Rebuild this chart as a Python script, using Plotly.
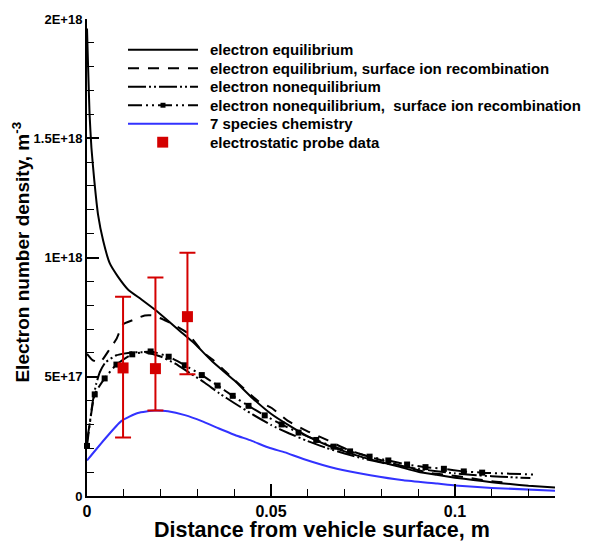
import plotly.graph_objects as go

# ---------------- data ----------------
eq_x = [0, 0.0003, 0.0007, 0.0012, 0.002, 0.003, 0.0044, 0.0062, 0.0084, 0.0112, 0.0148, 0.0184,
        0.0221, 0.0257, 0.0293, 0.034, 0.040, 0.045, 0.050, 0.055, 0.060, 0.065, 0.070, 0.075,
        0.080, 0.085, 0.090, 0.095, 0.100, 0.105, 0.110, 0.115, 0.120, 0.1272]
eq_y = [1.96e18, 1.80e18, 1.60e18, 1.46e18, 1.32e18, 1.18e18, 1.07e18, 9.75e17, 9.2e17, 8.65e17,
        8.24e17, 7.82e17, 7.34e17, 6.86e17, 6.38e17, 5.65e17, 4.85e17, 4.1e17, 3.45e17, 2.95e17,
        2.5e17, 2.15e17, 1.87e17, 1.62e17, 1.42e17, 1.22e17, 1.02e17, 8.9e16, 7.7e16, 6.7e16,
        5.8e16, 5.0e16, 4.3e16, 3.6e16]

eqr_x = [0, 0.0015, 0.0035, 0.0062, 0.008, 0.0098, 0.0125, 0.0157, 0.018, 0.021, 0.0234, 0.0271,
         0.0315, 0.0343, 0.0382, 0.0466, 0.0502, 0.0545, 0.0597, 0.0655, 0.071, 0.08, 0.0933,
         0.0988, 0.1038, 0.1092, 0.115]
eqr_y = [5.96e17, 5.7e17, 5.6e17, 6.17e17, 6.58e17, 7.2e17, 7.38e17, 7.57e17, 7.57e17, 7.38e17,
         7.2e17, 6.86e17, 6.03e17, 5.7e17, 5.14e17, 3.97e17, 3.69e17, 3.16e17, 2.73e17, 2.33e17,
         1.93e17, 1.5e17, 9.6e16, 8.7e16, 7.6e16, 6.3e16, 5.5e16]

neq_x = [0, 0.0007, 0.0015, 0.0025, 0.0035, 0.005, 0.008, 0.012, 0.016, 0.020, 0.024, 0.028,
         0.032, 0.036, 0.040, 0.045, 0.050, 0.055, 0.060, 0.065, 0.070, 0.075, 0.080, 0.085,
         0.090, 0.095, 0.100, 0.105, 0.110, 0.115, 0.1205]
neq_y = [2.3e17, 3.0e17, 3.9e17, 4.7e17, 5.2e17, 5.6e17, 5.9e17, 6.02e17, 6.02e17, 5.85e17,
         5.55e17, 5.15e17, 4.75e17, 4.3e17, 3.9e17, 3.42e17, 2.98e17, 2.62e17, 2.3e17, 2.02e17,
         1.78e17, 1.57e17, 1.4e17, 1.26e17, 1.14e17, 1.04e17, 9.5e16, 8.8e16, 8.3e16, 7.9e16, 7.5e16]

neqr_x = [0, 0.0021, 0.0048, 0.0080, 0.0123, 0.0173, 0.0222, 0.0266, 0.0312, 0.0355, 0.0396,
          0.0439, 0.0483, 0.0529, 0.0575, 0.0623, 0.0670, 0.0715, 0.0768, 0.0819, 0.0870,
          0.0920, 0.0970, 0.1024, 0.1074, 0.1214]
neqr_y = [2.1e17, 4.26e17, 4.93e17, 5.51e17, 5.94e17, 6.06e17, 5.84e17, 5.48e17, 5.07e17,
          4.63e17, 4.20e17, 3.78e17, 3.38e17, 3.00e17, 2.66e17, 2.35e17, 2.07e17, 1.87e17,
          1.65e17, 1.49e17, 1.32e17, 1.21e17, 1.14e17, 1.03e17, 9.8e16, 9.0e16]

sp7_x = [0, 0.0048, 0.0093, 0.0138, 0.0184, 0.022, 0.0266, 0.0312, 0.0357, 0.0402, 0.0448,
         0.0497, 0.0538, 0.0588, 0.0679, 0.077, 0.086, 0.0952, 0.1, 0.11, 0.1272]
sp7_y = [1.49e17, 2.38e17, 3.14e17, 3.48e17, 3.58e17, 3.55e17, 3.39e17, 3.14e17, 2.84e17,
         2.56e17, 2.31e17, 2.01e17, 1.83e17, 1.55e17, 1.14e17, 8.7e16, 6.6e16, 5.2e16, 4.4e16,
         3.4e16, 2.2e16]

probe_x = [0.0098, 0.0186, 0.0273]
probe_y = [5.37e17, 5.34e17, 7.52e17]
probe_hi = [8.35e17, 9.16e17, 1.02e18]
probe_lo = [2.45e17, 3.59e17, 5.1e17]

legend_names = ["electron equilibrium",
                "electron equilibrium, surface ion recombination",
                "electron nonequilibrium",
                "electron nonequilibrium,  surface ion recombination",
                "7 species chemistry",
                "electrostatic probe data"]

x_tickvals = [0, 0.05, 0.1]
x_ticktext = ["0", "0.05", "0.1"]
x_minor = [0.01, 0.02, 0.03, 0.04, 0.06, 0.07, 0.08, 0.09, 0.11, 0.12]
y_tickvals = [0, 5e17, 1e18, 1.5e18, 2e18]
y_ticktext = ["0", "5E+17", "1E+18", "1.5E+18", "2E+18"]
y_minor = [1e17, 2e17, 3e17, 4e17, 6e17, 7e17, 8e17, 9e17, 1.1e18, 1.2e18, 1.3e18, 1.4e18,
           1.6e18, 1.7e18, 1.8e18, 1.9e18]

# ---------------- styles ----------------
FONT = "Liberation Sans, Arial, Helvetica, sans-serif"
RED = "#d40000"
BLUE = "#3232ff"
DASH2 = "11px,9px"
DASH3 = "18px,3px,2px,3px,2px,3px"
DASH4 = "14px,4px,2px,4px,2px,4px"

fig = go.Figure()
fig.add_trace(go.Scatter(x=eq_x, y=eq_y, mode="lines", name=legend_names[0],
                         line=dict(color="black", width=2, shape="spline", smoothing=0.5)))
fig.add_trace(go.Scatter(x=eqr_x, y=eqr_y, mode="lines", name=legend_names[1],
                         line=dict(color="black", width=2, dash=DASH2, shape="spline", smoothing=0.5)))
fig.add_trace(go.Scatter(x=neq_x, y=neq_y, mode="lines", name=legend_names[2],
                         line=dict(color="black", width=2, dash=DASH3, shape="spline", smoothing=0.5)))
fig.add_trace(go.Scatter(x=neqr_x, y=neqr_y, mode="lines", name=legend_names[3],
                         line=dict(color="black", width=2, dash=DASH4, shape="spline", smoothing=0.5)))
fig.add_trace(go.Scatter(x=neqr_x[:-1], y=neqr_y[:-1], mode="markers", showlegend=False,
                         marker=dict(symbol="square", size=6, color="black"), cliponaxis=False))
fig.add_trace(go.Scatter(x=sp7_x, y=sp7_y, mode="lines", name=legend_names[4],
                         line=dict(color=BLUE, width=2, shape="spline", smoothing=0.5)))
fig.add_trace(go.Scatter(
    x=probe_x, y=probe_y, mode="markers", name=legend_names[5],
    marker=dict(symbol="square", size=11, color=RED),
    error_y=dict(type="data", symmetric=False,
                 array=[h - v for h, v in zip(probe_hi, probe_y)],
                 arrayminus=[v - l for l, v in zip(probe_lo, probe_y)],
                 color=RED, thickness=2, width=8)))

# ---------------- layout ----------------
L, R, T, B = 87, 40, 12, 45
W, H = 595, 541
PW, PH = W - L - R, H - T - B


def px2paper(px, py):
    return (px - L) / PW, (H - B - py) / PH


# manual legend
rows_y = [43.3, 62.0, 80.8, 99.5, 118.3, 137.0]
styles = [dict(color="black", width=2),
          dict(color="black", width=2, dash=DASH2),
          dict(color="black", width=2, dash=DASH3),
          dict(color="black", width=2, dash=DASH4),
          dict(color=BLUE, width=2)]
shapes = []
annotations = []
for i, yy in enumerate(rows_y):
    x0, y0 = px2paper(128, yy)
    x1, _ = px2paper(198, yy)
    if i < 5:
        shapes.append(dict(type="line", xref="paper", yref="paper", x0=x0, x1=x1, y0=y0, y1=y0,
                           line=styles[i]))
    tx, ty = px2paper(208, yy)
    annotations.append(dict(text=legend_names[i], xref="paper", yref="paper", x=tx, y=ty,
                            xanchor="left", yanchor="middle", showarrow=False,
                            font=dict(family=FONT, size=15, color="black", weight="bold")))
# legend markers
for (cx, cy, s, col) in [(163, rows_y[3], 5, "black"), (162.7, rows_y[5], 11, RED)]:
    ax0, ay0 = px2paper(cx - s / 2, cy + s / 2)
    ax1, ay1 = px2paper(cx + s / 2, cy - s / 2)
    shapes.append(dict(type="rect", xref="paper", yref="paper", x0=ax0, x1=ax1, y0=ay0, y1=ay1,
                       fillcolor=col, line=dict(width=0)))

# axis titles
tx, ty = px2paper(322, 530)
annotations.append(dict(text="Distance from vehicle surface, m", xref="paper", yref="paper",
                        x=tx, y=ty, xanchor="center", yanchor="middle", showarrow=False,
                        font=dict(family=FONT, size=21.5, color="black", weight="bold")))
tx, ty = px2paper(21, 249)
annotations.append(dict(text="Electron number density, m<sup>-3</sup>", xref="paper", yref="paper",
                        x=tx, y=ty, xanchor="center", yanchor="middle", showarrow=False,
                        textangle=-90,
                        font=dict(family=FONT, size=19, color="black", weight="bold")))

fig.update_layout(
    width=W, height=H,
    margin=dict(l=L, r=R, t=T, b=B, pad=0),
    paper_bgcolor="white", plot_bgcolor="white",
    showlegend=False,
    shapes=shapes, annotations=annotations,
    xaxis=dict(range=[0, 0.1272], tickmode="array", tickvals=x_tickvals, ticktext=x_ticktext,
               ticks="inside", ticklen=12, tickwidth=2, tickcolor="black",
               minor=dict(tickmode="array", tickvals=x_minor, ticks="inside", ticklen=7,
                          tickwidth=1, tickcolor="black"),
               showline=True, linewidth=2, linecolor="black", showgrid=False, zeroline=False,
               tickfont=dict(family=FONT, size=16, color="black", weight="bold")),
    yaxis=dict(range=[0, 2e18], tickmode="array", tickvals=y_tickvals, ticktext=y_ticktext,
               ticks="inside", ticklen=12, tickwidth=2, tickcolor="black",
               minor=dict(tickmode="array", tickvals=y_minor, ticks="inside", ticklen=7,
                          tickwidth=1, tickcolor="black"),
               showline=True, linewidth=2, linecolor="black", showgrid=False, zeroline=False,
               tickfont=dict(family=FONT, size=13, color="black", weight="bold")),
)

fig.write_html("out.html")
